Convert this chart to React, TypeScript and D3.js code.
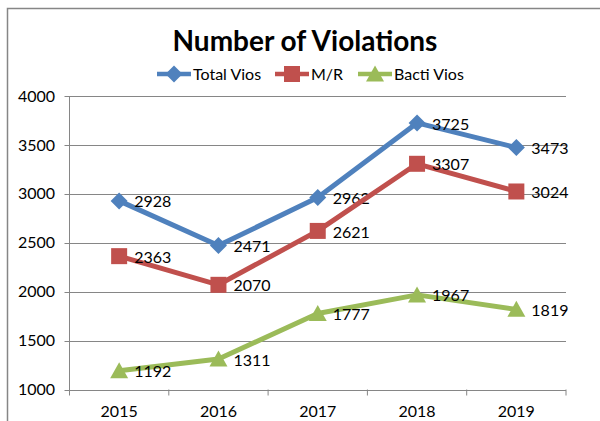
import * as d3 from "d3";

const years = ["2015", "2016", "2017", "2018", "2019"];
const totalVios = [2928, 2471, 2962, 3725, 3473];
const mrVios = [2363, 2070, 2621, 3307, 3024];
const bactiVios = [1192, 1311, 1777, 1967, 1819];
const yTicks = [1000, 1500, 2000, 2500, 3000, 3500, 4000];

const FONT = "Lato, 'Open Sans', sans-serif";

const series = [
  { name: "Total Vios", values: totalVios, color: "#4F81BD", marker: "diamond", legendX: 157 },
  { name: "M/R", values: mrVios, color: "#C0504D", marker: "square", legendX: 275 },
  { name: "Bacti Vios", values: bactiVios, color: "#9BBB59", marker: "triangle", legendX: 358 },
];

function Marker({ kind, x, y, color }: { kind: string; x: number; y: number; color: string }) {
  if (kind === "square") return <rect x={x - 8} y={y - 8} width={16} height={16} fill={color} />;
  if (kind === "diamond")
    return <path d={`M${x},${y - 8.5}L${x + 8.5},${y}L${x},${y + 8.5}L${x - 8.5},${y}Z`} fill={color} />;
  return <path d={`M${x},${y - 8.5}L${x + 9},${y + 7.5}L${x - 9},${y + 7.5}Z`} fill={color} />;
}

export default function App() {
  const left = 69.5;
  const right = 566;
  const x = d3.scaleBand().domain(years).range([left, right]);
  const y = d3.scaleLinear().domain([1000, 4000]).range([389.5, 96]);
  const cx = (i: number) => x(years[i])! + x.bandwidth() / 2;
  const line = d3
    .line<number>()
    .x((_, i) => cx(i))
    .y((d) => y(d));

  return (
    <svg width={600} height={421} style={{ position: "absolute", left: 0, top: 0 }} fontFamily={FONT}>
      <rect x={0} y={0} width={600} height={421} fill="#fff" />
      <rect x={7.5} y={8.5} width={620} height={440} fill="none" stroke="#868686" strokeWidth={1.5} />

      <text x={305} y={51} textAnchor="middle" fontSize={28} fontWeight={700} fill="#000">
        Number of Violations
      </text>

      {series.map((s) => (
        <g key={s.name}>
          <line x1={s.legendX} x2={s.legendX + 34} y1={74} y2={74} stroke={s.color} strokeWidth={4.5} />
          <Marker kind={s.marker} x={s.legendX + 17} y={74} color={s.color} />
          <text x={s.legendX + 36} y={74} dy="0.35em" fontSize={16} fill="#000">
            {s.name}
          </text>
        </g>
      ))}

      {yTicks.map((t) => (
        <g key={t}>
          <line x1={left - 5} x2={right} y1={Math.round(y(t)) + 0.5} y2={Math.round(y(t)) + 0.5} stroke="#868686" />
          <text x={55} y={y(t)} dy="0.35em" textAnchor="end" fontSize={16} fill="#000">
            {t}
          </text>
        </g>
      ))}
      <line x1={left} x2={left} y1={y(4000)} y2={y(1000) + 5} stroke="#868686" />
      {[...years.map((yr) => x(yr)!), right].map((v, i) => (
        <line key={i} x1={v} x2={v} y1={y(1000)} y2={y(1000) + 6} stroke="#868686" />
      ))}
      {years.map((yr, i) => (
        <text key={yr} x={cx(i)} y={411} dy="0.35em" textAnchor="middle" fontSize={16} fill="#000">
          {yr}
        </text>
      ))}

      {series.map((s) => (
        <g key={s.name}>
          <path d={line(s.values)!} fill="none" stroke={s.color} strokeWidth={5} strokeLinejoin="round" />
          {s.values.map((v, i) => (
            <Marker key={i} kind={s.marker} x={cx(i)} y={y(v)} color={s.color} />
          ))}
          {s.values.map((v, i) => (
            <text key={"l" + i} x={cx(i) + 15} y={y(v) + 1} dy="0.35em" fontSize={16} fill="#000">
              {v}
            </text>
          ))}
        </g>
      ))}
    </svg>
  );
}
